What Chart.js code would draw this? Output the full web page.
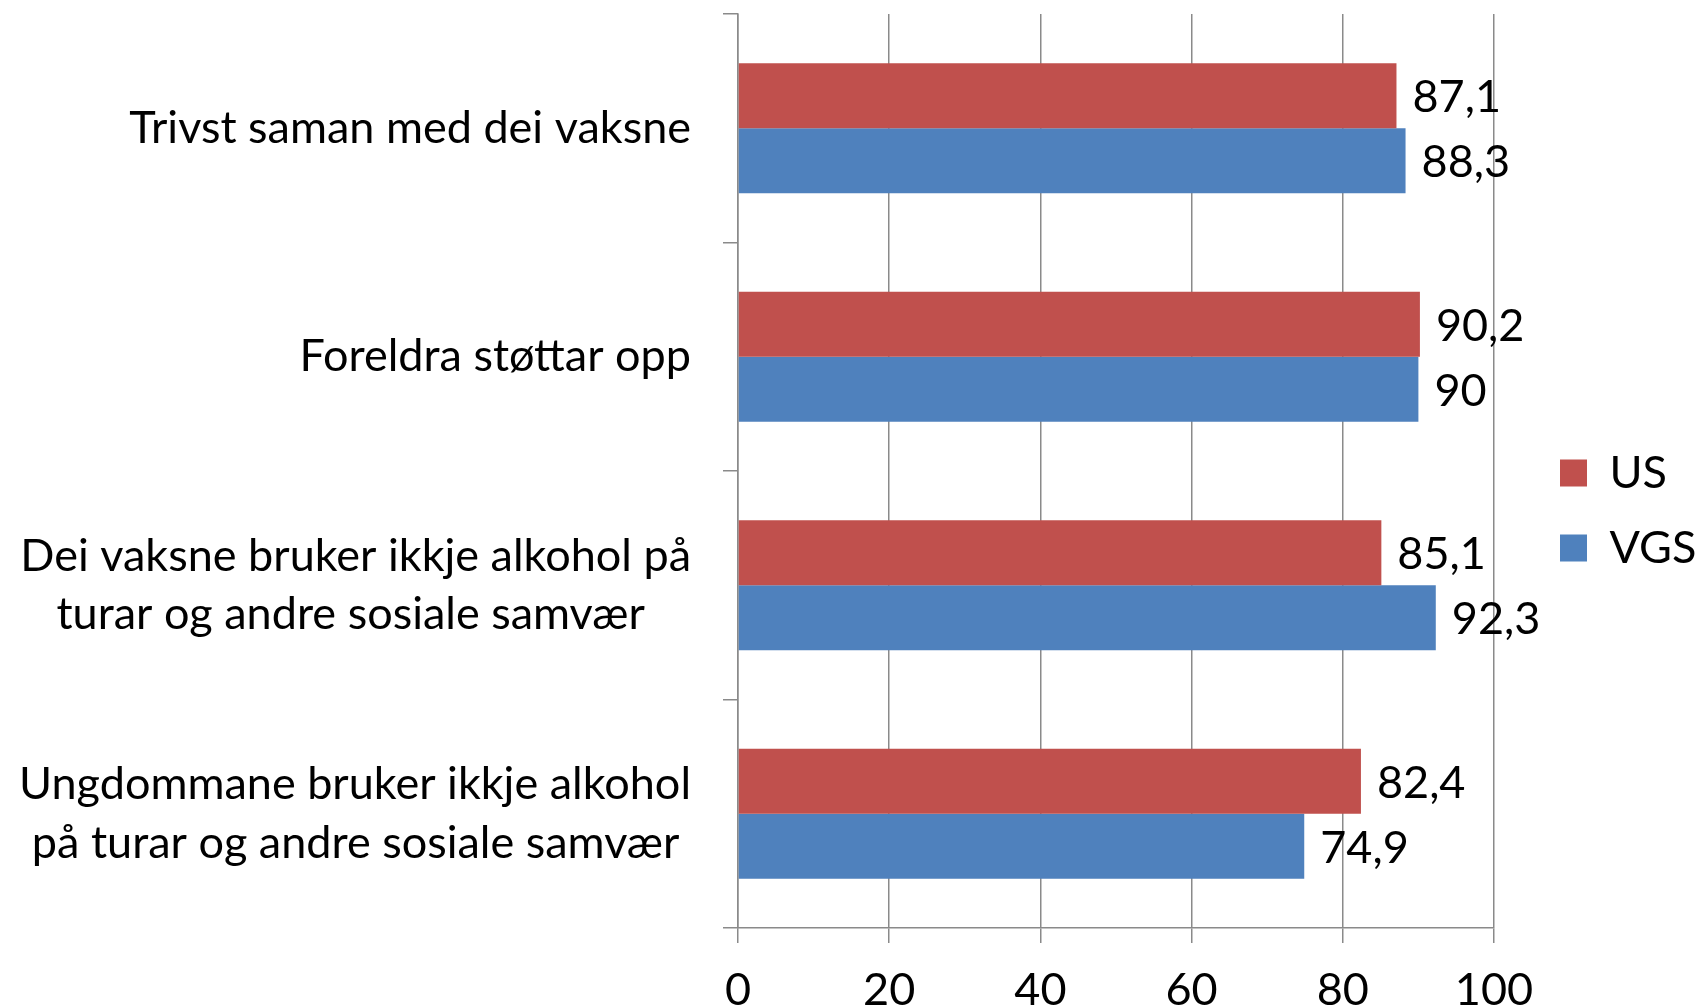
<!DOCTYPE html>
<html>
<head>
<meta charset="utf-8">
<script src="https://cdn.jsdelivr.net/npm/chart.js@4/dist/chart.umd.min.js"></script>
<style>
  body { margin: 0; background: #fff; }
  #wrap { width: 1698px; height: 1007px; }
</style>
</head>
<body>
<div id="wrap"><canvas id="chart" width="1698" height="1007"></canvas></div>
<script>
// data
const categories = [
  "Trivst saman med dei vaksne",
  "Foreldra støttar opp",
  ["Dei vaksne bruker ikkje alkohol på", "turar og andre sosiale samvær"],
  ["Ungdommane bruker ikkje alkohol", "på turar og andre sosiale samvær"]
];
const usValues = [87.1, 90.2, 85.1, 82.4];
const vgsValues = [88.3, 90, 92.3, 74.9];
const seriesNames = ["US", "VGS"];
const xTicks = [0, 20, 40, 60, 80, 100];

const gridColor = "#8a8a8a";
const fontSize = 45;

// midtstill linjene i ein label med fleire linjer (mellomrom bak den korte linja)
const measureCtx = document.createElement("canvas").getContext("2d");
measureCtx.font = fontSize + "px Lato";
function centerLines(lines) {
  const widths = lines.map(l => measureCtx.measureText(l).width);
  const maxW = Math.max(...widths);
  const sp = measureCtx.measureText(" ").width;
  return lines.map((l, i) => l + " ".repeat(Math.round((maxW - widths[i]) / 2 / sp)));
}

// tal ved enden av kvar stolpe
const barLabels = {
  id: "barLabels",
  afterDatasetsDraw(chart) {
    const ctx = chart.ctx;
    ctx.save();
    ctx.font = fontSize + "px Lato";
    ctx.fillStyle = "#000";
    ctx.textBaseline = "middle";
    ctx.textAlign = "left";
    chart.data.datasets.forEach((ds, i) => {
      const meta = chart.getDatasetMeta(i);
      meta.data.forEach((bar, j) => {
        const txt = String(ds.data[j]).replace(".", ",");
        ctx.fillText(txt, bar.x + 16, bar.y + 2);
      });
    });
    ctx.restore();
  }
};

// flytt legenden litt til høgre, bort frå plottet
const legendShift = {
  id: "legendShift",
  afterLayout(chart) {
    const lg = chart.legend;
    if (!lg) return;
    lg.left += 36;
    lg.right += 36;
  }
};

new Chart(document.getElementById("chart"), {
  type: "bar",
  data: {
    labels: categories,
    datasets: [
      {
        label: seriesNames[0],
        data: usValues,
        backgroundColor: "#C0504D",
        categoryPercentage: 0.57,
        barPercentage: 1
      },
      {
        label: seriesNames[1],
        data: vgsValues,
        backgroundColor: "#4F81BD",
        categoryPercentage: 0.57,
        barPercentage: 1
      }
    ]
  },
  options: {
    indexAxis: "y",
    responsive: false,
    animation: false,
    layout: { padding: { top: 14, left: 0, right: -4, bottom: 0 } },
    plugins: {
      legend: {
        position: "right",
        labels: {
          font: { family: "Lato", size: fontSize },
          color: "#000",
          boxWidth: 27,
          boxHeight: 27,
          padding: 30
        }
      },
      tooltip: { enabled: false }
    },
    scales: {
      x: {
        min: 0,
        max: 100,
        afterBuildTicks(scale) {
          scale.ticks = xTicks.map(v => ({ value: v }));
        },
        afterFit(scale) {
          scale.height = 79;
          scale.paddingLeft = 0;
          // plass til høgre for plottet (legenden sit der)
          scale.paddingRight = 204;
        },
        grid: {
          color: gridColor,
          lineWidth: 1.5,
          tickLength: 15,
          tickColor: gridColor
        },
        border: { color: gridColor, width: 1.5 },
        ticks: {
          font: { family: "Lato", size: fontSize },
          color: "#000",
          padding: 20
        }
      },
      y: {
        afterFit(scale) {
          scale.width = 738;
          scale.paddingTop = 0;
          scale.paddingBottom = 0;
        },
        grid: {
          drawOnChartArea: false,
          tickLength: 15,
          tickColor: gridColor,
          lineWidth: 1.5
        },
        border: { color: gridColor, width: 1.5 },
        ticks: {
          font: { family: "Lato", size: fontSize, lineHeight: 1.3 },
          color: "#000",
          padding: 32,
          callback(value, index) {
            const lbl = categories[index];
            return Array.isArray(lbl) ? centerLines(lbl) : lbl;
          }
        }
      }
    }
  },
  plugins: [barLabels, legendShift]
});
</script>
</body>
</html>
